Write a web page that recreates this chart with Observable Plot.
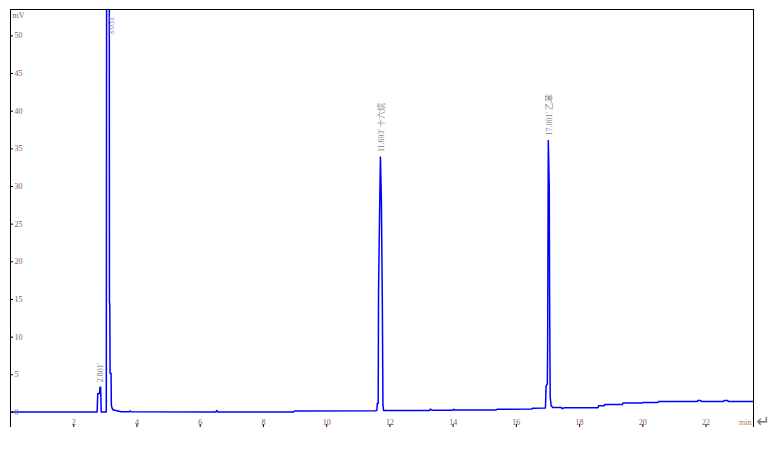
<!DOCTYPE html>
<html>
<head>
<meta charset="utf-8">
<script src="https://cdn.jsdelivr.net/npm/d3@7"></script>
<script src="https://cdn.jsdelivr.net/npm/@observablehq/plot@0.6"></script>
<style>
  html, body { margin: 0; padding: 0; background: #fff; }
  #chart { width: 776px; height: 449px; overflow: hidden; }
</style>
</head>
<body>
<div id="chart"></div>
<script>
// Axis limits and ticks
const xDomain = [0, 23.5];
const yDomain = [-2, 53.5];
const xTicks = [2, 4, 6, 8, 10, 12, 14, 16, 18, 20, 22];
const yTicks = [0, 5, 10, 15, 20, 25, 30, 35, 40, 45, 50];

// Chromatogram trace (retention time in min, signal in mV)
const times = [
  0.00, 2.74, 2.76, 2.82, 2.83, 2.85, 2.87, 3.03, 3.06, 3.11, 3.13, 3.14, 3.15, 3.18,
  3.19, 3.21, 3.24, 3.33, 3.50, 3.75, 3.78, 3.82, 6.50, 6.52, 6.56, 8.95, 8.98,
  11.55, 11.59, 11.60, 11.63, 11.64, 11.68, 11.70, 11.73, 11.76, 11.78, 11.80,
  13.25, 13.28, 13.33, 14.00, 14.02, 14.05, 15.36, 15.39, 16.48, 16.51, 16.92,
  16.94, 16.98, 16.99, 17.01, 17.04, 17.05, 17.07, 17.10, 17.15, 17.42, 17.45, 17.52,
  18.58, 18.60, 18.78, 18.80, 19.35, 19.37, 19.98, 20.00, 20.48, 20.50,
  21.72, 21.74, 21.83, 21.85, 22.55, 22.57, 22.68, 22.70, 23.50
];
const signal = [
  0.05, 0.05, 2.5, 2.5, 3.36, 3.36, 0.05, 0.05, 180, 180, 14.5, 14.5, 5.2, 5.2,
  1.0, 0.6, 0.35, 0.25, 0.08, 0.08, 0.2, 0.08, 0.05, 0.25, 0.05, 0.05, 0.18,
  0.22, 0.3, 1.2, 1.2, 16.1, 28.3, 33.9, 28.3, 15, 1.0, 0.25,
  0.25, 0.45, 0.3, 0.3, 0.42, 0.32, 0.32, 0.42, 0.45, 0.55, 0.6,
  3.5, 3.8, 10, 36.1, 30, 16, 2.0, 0.9, 0.65, 0.65, 0.5, 0.62,
  0.62, 0.89, 0.89, 1.06, 1.06, 1.24, 1.24, 1.33, 1.33, 1.46,
  1.46, 1.59, 1.59, 1.46, 1.46, 1.59, 1.59, 1.46, 1.46
];

// Peak annotations
const peakTimes = [2.801, 3.051, 11.693, 17.001];
const peakHeights = [3.36, 180, 33.9, 36.1];
const peakNames = ["", "", "十六烷", "乙苯"];

const trace = times.map((t, i) => ({t, v: signal[i]}));
const peaks = peakTimes.map((t, i) => ({
  t,
  h: Math.min(peakHeights[i], yDomain[1]),
  clipped: peakHeights[i] > yDomain[1],
  label: `${t.toFixed(3)}'` + (peakNames[i] ? " " + peakNames[i] : "")
}));

const axisColor = "#8a5a48";
const labelColor = "#7f7f7f";

const chart = Plot.plot({
  width: 776,
  height: 449,
  marginLeft: 10,
  marginRight: 23,
  marginTop: 9,
  marginBottom: 22,
  style: {fontFamily: "'Liberation Serif', 'Noto Sans CJK SC', serif", fontSize: "8px", background: "#fff", overflow: "visible"},
  x: {domain: xDomain},
  y: {domain: yDomain},
  marks: [
    Plot.line(trace, {x: "t", y: "v", stroke: "#0000ff", strokeWidth: 1.5, clip: true}),
    Plot.ruleX([xDomain[0]], {stroke: "black"}),
    Plot.ruleX([xDomain[1]], {stroke: "black"}),
    Plot.ruleY([yDomain[1]], {stroke: "black"}),
    Plot.axisY(yTicks, {anchor: "left", tickSize: 3, dx: 3, tickFormat: () => "", label: null, stroke: "black"}),
    Plot.text(yTicks, {y: d => d, text: d => String(d), frameAnchor: "left", dx: 4, textAnchor: "start", fill: axisColor}),
    Plot.axisX(xTicks, {anchor: "bottom", tickSize: 3, dy: -3, tickFormat: () => "", label: null, stroke: "black"}),
    Plot.text(xTicks, {x: d => d, text: d => String(d), frameAnchor: "bottom", dy: -3, lineAnchor: "bottom", fill: axisColor}),
    Plot.text(["mV"], {frameAnchor: "top-left", dx: 2, dy: 3, lineAnchor: "top", textAnchor: "start", fill: axisColor}),
    Plot.text(["min"], {frameAnchor: "bottom-right", dx: -2, dy: -3, lineAnchor: "bottom", textAnchor: "end", fill: "#c0703a"}),
    Plot.text(["↵"], {frameAnchor: "bottom-right", dx: 3, dy: -1, lineAnchor: "bottom", textAnchor: "start", fill: "#777", fontSize: 16, fontFamily: "DejaVu Sans"}),
    Plot.text(peaks.filter(p => !p.clipped), {x: "t", y: "h", text: "label", rotate: -90, textAnchor: "start", dy: -5, dx: 1, fill: labelColor}),
    Plot.text(peaks.filter(p => p.clipped), {x: "t", y: "h", text: "label", rotate: -90, textAnchor: "end", dy: 6, dx: 4, fill: "#7a7ab8"})
  ]
});
document.getElementById("chart").appendChild(chart);
</script>
</body>
</html>
